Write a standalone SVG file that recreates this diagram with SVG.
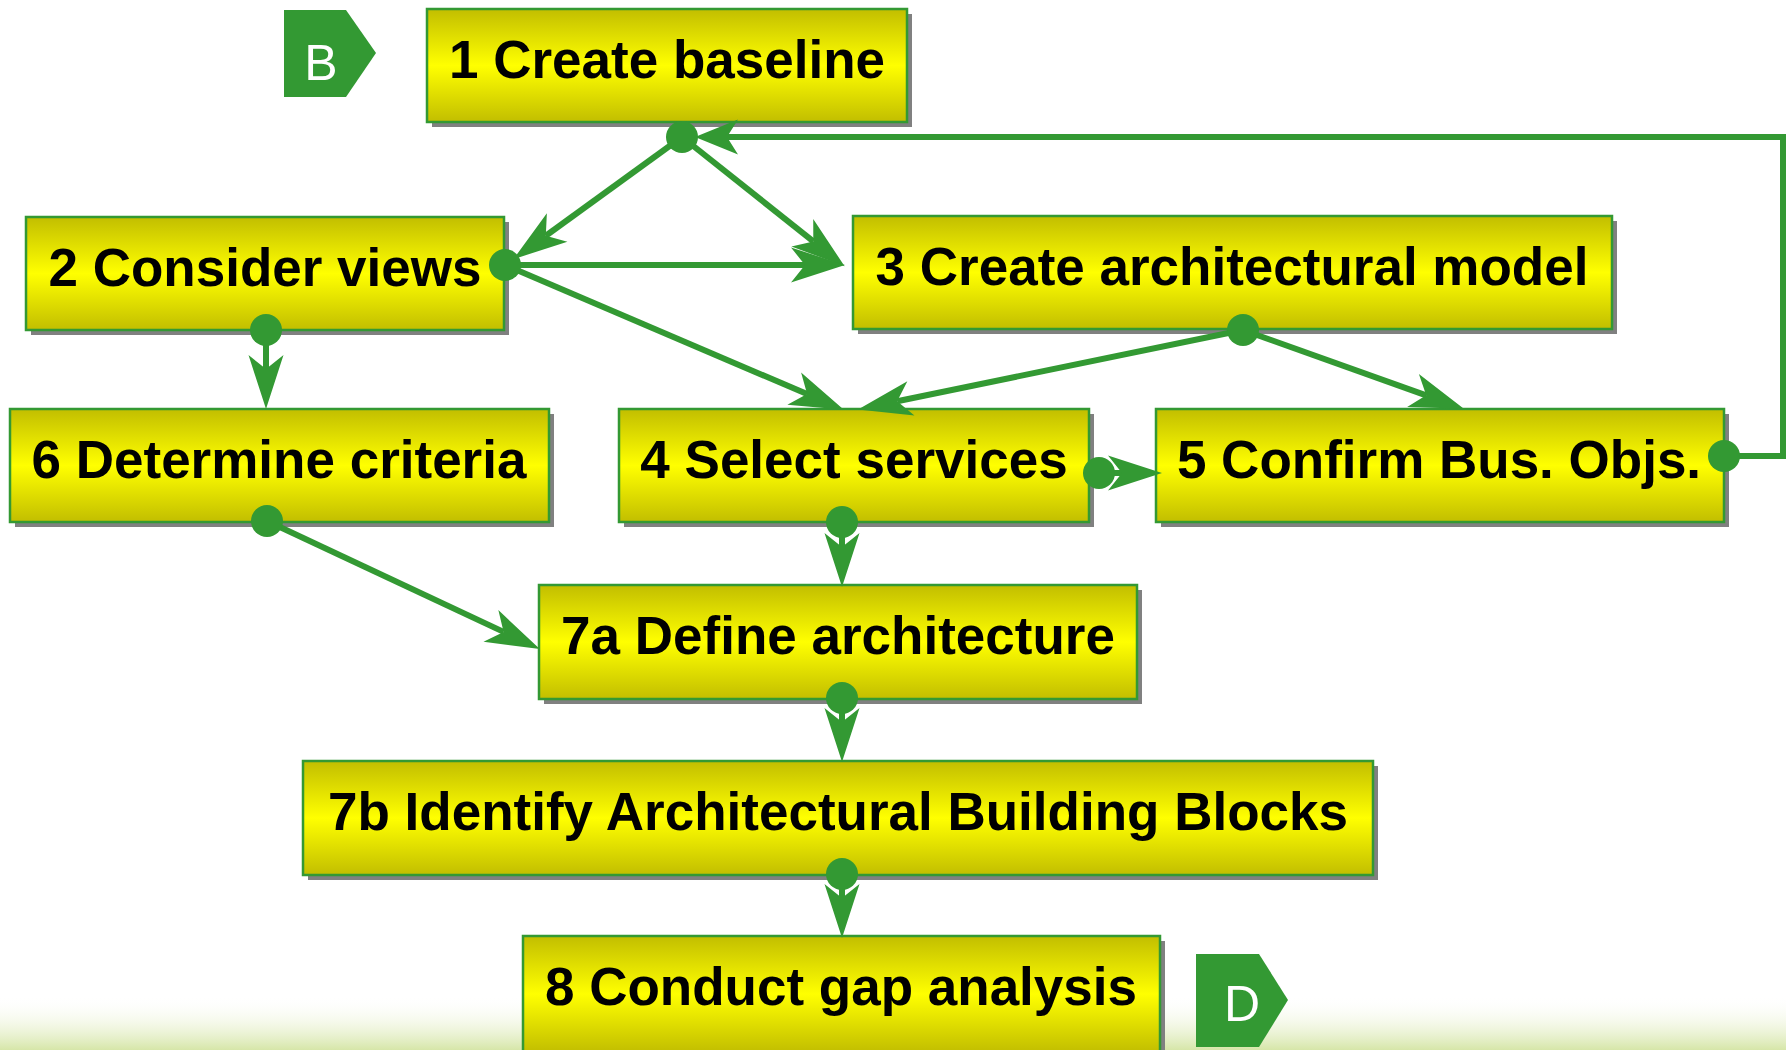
<svg xmlns="http://www.w3.org/2000/svg" width="1786" height="1050" viewBox="0 0 1786 1050">
<defs>
<style>
.box{stroke:#339933;stroke-width:2.5;fill:url(#yel)}
.sh{fill:#808080}
.lbl{font-family:"Liberation Sans",Arial,sans-serif;font-weight:bold;font-size:53px;fill:#000;text-anchor:middle}
.bdg{fill:#339933}
.bl{font-family:"Liberation Sans",Arial,sans-serif;font-size:50px;fill:#fff;text-anchor:middle}
.ln{stroke:#339933;stroke-width:6;fill:none;marker-end:url(#arr)}
.dot{fill:#339933}
</style>
<linearGradient id="yel" x1="0" y1="0" x2="0" y2="1">
<stop offset="0" stop-color="#c2be00"/>
<stop offset="0.5" stop-color="#ffff00"/>
<stop offset="1" stop-color="#c2be00"/>
</linearGradient>
<linearGradient id="bg" x1="0" y1="0" x2="0" y2="1">
<stop offset="0" stop-color="#ffffff" stop-opacity="0"/>
<stop offset="1" stop-color="#d6e6a8"/>
</linearGradient>
<marker id="arr" markerUnits="userSpaceOnUse" orient="auto" viewBox="-16 -20 60 40" refX="0" refY="0" markerWidth="60" markerHeight="40" overflow="visible">
<path d="M40,0 L-14,-17.5 L0,0 L-14,17.5 Z" fill="#339933"/>
</marker>
<marker id="arrs" markerUnits="userSpaceOnUse" orient="auto" viewBox="-16 -20 60 40" refX="0" refY="0" markerWidth="60" markerHeight="40" overflow="visible">
<path d="M32,0 L-11,-17.5 L0,0 L-11,17.5 Z" fill="#339933"/>
</marker>
</defs>
<rect width="1786" height="1050" fill="#ffffff"/>
<rect x="0" y="995" width="1786" height="55" fill="url(#bg)"/>

<g id="badge-B">
<path class="bdg" d="M284,10 L346,10 L376,53 L346,97 L284,97 Z"/>
<text class="bl" x="321" y="80">B</text>
</g>
<g id="badge-D">
<path class="bdg" d="M1196,954 L1259,954 L1288,1000 L1259,1047 L1196,1047 Z"/>
<text class="bl" x="1242" y="1021">D</text>
</g>

<g id="n1">
<rect class="sh" x="432" y="14" width="480" height="113"/>
<rect class="box" x="427" y="9" width="480" height="113"/>
<text class="lbl" x="667" y="78">1 Create baseline</text>
</g>
<g id="n2">
<rect class="sh" x="31" y="222" width="478" height="113"/>
<rect class="box" x="26" y="217" width="478" height="113"/>
<text class="lbl" x="265" y="286">2 Consider views</text>
</g>
<g id="n3">
<rect class="sh" x="858" y="221" width="759" height="113"/>
<rect class="box" x="853" y="216" width="759" height="113"/>
<text class="lbl" x="1232" y="285">3 Create architectural model</text>
</g>
<g id="n6">
<rect class="sh" x="15" y="414" width="539" height="113"/>
<rect class="box" x="10" y="409" width="539" height="113"/>
<text class="lbl" x="279" y="478">6 Determine criteria</text>
</g>
<g id="n4">
<rect class="sh" x="624" y="414" width="470" height="113"/>
<rect class="box" x="619" y="409" width="470" height="113"/>
<text class="lbl" x="854" y="478">4 Select services</text>
</g>
<g id="n5">
<rect class="sh" x="1161" y="414" width="568" height="113"/>
<rect class="box" x="1156" y="409" width="568" height="113"/>
<text class="lbl" x="1439" y="478">5 Confirm Bus. Objs.</text>
</g>
<g id="n7a">
<rect class="sh" x="544" y="590" width="598" height="114"/>
<rect class="box" x="539" y="585" width="598" height="114"/>
<text class="lbl" x="838" y="654">7a Define architecture</text>
</g>
<g id="n7b">
<rect class="sh" x="308" y="766" width="1070" height="114"/>
<rect class="box" x="303" y="761" width="1070" height="114"/>
<text class="lbl" x="838" y="830">7b Identify Architectural Building Blocks</text>
</g>
<g id="n8">
<rect class="sh" x="528" y="941" width="637" height="116"/>
<rect class="box" x="523" y="936" width="637" height="116"/>
<text class="lbl" x="841" y="1005">8 Conduct gap analysis</text>
</g>

<g id="connectors">
<path class="ln" d="M682,137 L545.8,235.7"/>
<path class="ln" d="M682,137 L813.3,241.4"/>
<path class="ln" d="M505,265 L805,265"/>
<path class="ln" d="M505,265 L807.1,394.1"/>
<path class="ln" d="M266,330 L266,369"/>
<path class="ln" d="M1243,330 L897.2,401.3"/>
<path class="ln" d="M1243,330 L1426.2,395.3"/>
<path class="ln" d="M1099,473 L1122,473"/>
<path class="ln" d="M267,521 L503.6,631.9"/>
<path class="ln" d="M842,522 L842,547"/>
<path class="ln" d="M842,698 L842,722"/>
<path class="ln" d="M842,874 L842,898"/>
<path class="ln" style="marker-end:url(#arrs)" d="M1724,456 L1783,456 L1783,137 L727,137"/>
<circle class="dot" cx="682" cy="137" r="16"/>
<circle class="dot" cx="505" cy="265" r="16"/>
<circle class="dot" cx="266" cy="330" r="16"/>
<circle class="dot" cx="1243" cy="330" r="16"/>
<circle class="dot" cx="1099" cy="473" r="16"/>
<circle class="dot" cx="842" cy="522" r="16"/>
<circle class="dot" cx="1724" cy="456" r="16"/>
<circle class="dot" cx="267" cy="521" r="16"/>
<circle class="dot" cx="842" cy="698" r="16"/>
<circle class="dot" cx="842" cy="874" r="16"/>
</g>
</svg>
